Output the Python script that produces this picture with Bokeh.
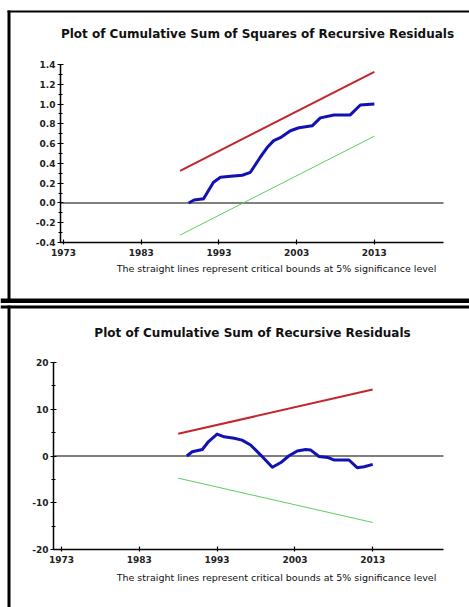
from bokeh.plotting import figure
from bokeh.layouts import column
from bokeh.models import (Label, BoxAnnotation, FixedTicker, Range1d, LinearAxis,
                          NumeralTickFormatter)
from bokeh.embed import file_html
from bokeh.resources import INLINE

# ---- CUSUM of squares of recursive residuals ----
sq_years = [1989.1, 1989.8, 1990.8, 1991.0, 1992.3, 1993.2, 1994.5, 1996.0, 1997.05,
            1998.3, 1999.2, 2000.05, 2000.9, 2002.2, 2003.3, 2005.0, 2006.05, 2007.8,
            2009.9, 2011.2, 2013.0]
sq_values = [0.00, 0.03, 0.04, 0.04, 0.21, 0.26, 0.27, 0.28, 0.31,
             0.46, 0.56, 0.63, 0.66, 0.73, 0.76, 0.78, 0.86, 0.89,
             0.89, 0.99, 1.00]
sq_bound_years = [1988, 2013]
sq_upper = [0.325, 1.325]
sq_lower = [-0.325, 0.675]
sq_ticks = [-0.4, -0.2, 0.0, 0.2, 0.4, 0.6, 0.8, 1.0, 1.2, 1.4]
sq_minor = [-0.3, -0.1, 0.1, 0.3, 0.5, 0.7, 0.9, 1.1, 1.3]

# ---- CUSUM of recursive residuals ----
cs_years = [1989.1, 1989.8, 1991.1, 1991.9, 1993.0, 1993.9, 1995.2, 1996.2, 1997.3,
            1998.6, 2000.1, 2001.2, 2002.2, 2003.3, 2004.4, 2005.0, 2006.1, 2007.2,
            2008.0, 2009.95, 2011.0, 2011.9, 2013.0]
cs_values = [0.0, 0.9, 1.4, 3.1, 4.7, 4.1, 3.8, 3.4, 2.35,
             0.2, -2.4, -1.4, 0.0, 1.07, 1.4, 1.3, -0.1, -0.3,
             -0.85, -0.85, -2.5, -2.3, -1.8]
cs_bound_years = [1988, 2013]
cs_upper = [4.74, 14.22]
cs_lower = [-4.74, -14.22]
cs_ticks = [-20, -10, 0, 10, 20]
cs_minor = [-15, -5, 5, 15]

year_ticks = [1973, 1983, 1993, 2003, 2013]

FOOTNOTE = "The straight lines represent critical bounds at 5% significance level"
W = 469


def panel(title, title_x, title_y, foot_x, foot_y, height, ax_px, xlim, ylim,
          yticks, yminor, yfmt, years, vals, byears, upper, lower, frame_boxes):
    # ax_px = (left, right, top, bottom) pixel position of the axes box in this canvas
    left, right, top, bottom = ax_px
    kx = (right - left) / (xlim[1] - xlim[0])
    ky = (bottom - top) / (ylim[1] - ylim[0])
    x0 = xlim[0] - left / kx
    x1 = xlim[1] + (W - right) / kx
    y1 = ylim[1] + top / ky
    y0 = ylim[0] - (height - bottom) / ky

    def dx(px):
        return x0 + px / kx

    def dy(py):
        return y1 - py / ky

    p = figure(width=W, height=height, x_range=Range1d(x0, x1), y_range=Range1d(y0, y1),
               output_backend="svg", toolbar_location=None, title=None,
               x_axis_location=None, y_axis_location=None, min_border=0)
    p.grid.visible = False
    p.outline_line_color = None
    p.background_fill_color = "white"
    p.border_fill_color = "white"

    xaxis = LinearAxis(fixed_location=ylim[0], bounds=xlim,
                       ticker=FixedTicker(ticks=year_ticks, minor_ticks=[]))
    yaxis = LinearAxis(fixed_location=xlim[0], bounds=ylim,
                       ticker=FixedTicker(ticks=yticks, minor_ticks=yminor),
                       formatter=NumeralTickFormatter(format=yfmt))
    for ax in (xaxis, yaxis):
        ax.axis_line_color = "black"
        ax.axis_line_width = 1.5
        ax.major_tick_line_color = "black"
        ax.major_tick_line_width = 1.2
        ax.minor_tick_line_color = "black"
        ax.major_label_text_font = "DejaVu Sans"
        ax.major_label_text_font_style = "bold"
        ax.major_label_text_color = "#222222"
    xaxis.major_tick_in = 3
    xaxis.major_tick_out = 2
    xaxis.major_label_standoff = 4
    xaxis.major_label_text_font_size = "9px"
    yaxis.major_tick_in = 3
    yaxis.major_tick_out = 3
    yaxis.minor_tick_in = 2
    yaxis.minor_tick_out = 2
    yaxis.major_label_standoff = 2
    yaxis.major_label_text_font_size = "9px"
    p.add_layout(xaxis, "below")
    p.add_layout(yaxis, "left")

    p.add_layout(Label(x=dx(title_x), y=dy(title_y), text=title, text_align="center",
                       text_baseline="middle", text_font="DejaVu Sans",
                       text_font_size="12px", text_font_style="bold",
                       text_color="#111111"))
    p.add_layout(Label(x=dx(foot_x), y=dy(foot_y), text=FOOTNOTE, text_align="center",
                       text_baseline="middle", text_font="DejaVu Sans",
                       text_font_size="9.5px", text_color="#111111"))

    # zero reference line across the axes box
    p.segment(x0=[xlim[0]], x1=[xlim[1]], y0=[0], y1=[0],
              line_color="#555555", line_width=1.5)
    p.line(byears, upper, line_color="#c3262b", line_width=2)
    p.line(byears, lower, line_color="#5ccf5c", line_width=1)
    p.line(years, vals, line_color="#1212b4", line_width=3, line_join="round")

    # black panel frame pieces, given in canvas pixels
    for (l, r, t, b) in frame_boxes:
        p.add_layout(BoxAnnotation(left=dx(l), right=dx(r), top=dy(t), bottom=dy(b),
                                   fill_color="black", fill_alpha=1.0, line_color=None))
    return p


top = panel("Plot of Cumulative Sum of Squares of Recursive Residuals", 257, 33, 276, 268,
            303, (60, 443, 64, 242), (1972.61, 2021.9), (-0.4, 1.4),
            sq_ticks, sq_minor, "0.0", sq_years, sq_values,
            sq_bound_years, sq_upper, sq_lower,
            [(7, W, 10, 12), (7, 10, 10, 303), (0, W, 298, 303)])
bottom = panel("Plot of Cumulative Sum of Recursive Residuals", 252, 29, 276, 274,
               304, (53, 443, 59, 246), (1971.97, 2022.1), (-20, 20),
               cs_ticks, cs_minor, "0", cs_years, cs_values,
               cs_bound_years, cs_upper, cs_lower,
               [(0, W, 2, 5), (7, 10, 2, 304)])

layout = column(top, bottom, spacing=0)
open("out.html", "w").write(file_html(layout, INLINE))
